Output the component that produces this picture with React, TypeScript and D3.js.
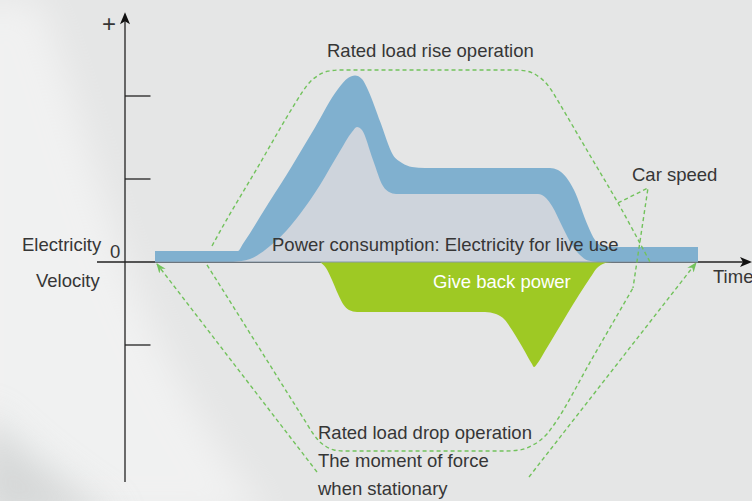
import React from "react";
import * as d3 from "d3";

const W = 752;
const H = 501;

// x: time units, y: value units (schematic)
const consumptionOuter: [number, number][] = [
  [3.0, 1.33], [11.3, 1.33], [11.8, 2.2], [14.3, 6.99], [16.7, 11.57], [19.0, 16.2], [21.3, 20.84], [22.3, 22.17],
  [23.0, 22.47], [23.7, 22.05], [24.3, 20.72], [25.55, 16.8], [26.8, 12.89], [27.7, 11.93], [28.7, 11.45],
  [30.0, 11.33], [42.5, 11.33], [43.3, 11.08], [44.1, 10.24], [44.9, 8.67], [46.3, 4.34],
  [47.0, 2.65], [47.7, 1.93], [48.7, 1.81], [57.3, 1.81],
];

const consumptionInner: [number, number][] = [
  [10.8, 0], [12.5, 0.36], [14.5, 1.93], [16.2, 3.86], [17.5, 5.78], [19.5, 9.28],
  [21.5, 13.37], [22.7, 15.66], [23.2, 16.27], [23.7, 15.9], [24.8, 12.29], [25.8, 9.16],
  [26.4, 8.43], [27.1, 8.19], [41.3, 8.19], [42.1, 7.71], [42.7, 6.75], [43.8, 4.1],
  [44.7, 2.05], [45.5, 0.84], [46.3, 0.18], [47.3, 0],
];

const giveBack: [number, number][] = [
  [19.5, 0], [20.1, -0.72], [20.7, -2.17], [21.3, -3.86], [21.8, -5.06], [22.4, -5.78],
  [23.2, -6.02], [36.0, -6.02], [37.1, -6.27], [38.0, -6.99], [38.7, -8.19], [39.9, -10.6],
  [40.7, -12.29], [40.9, -12.65], [41.2, -12.29], [42.0, -10.72], [46.5, -1.93],
  [47.2, -0.72], [47.9, -0.18], [48.7, 0],
];

const riseSpeed: [number, number][] = [
  [8.7, 1.93], [9.3, 3.25], [13.2, 11.27], [17.1, 19.28], [17.8, 20.6], [18.5, 21.69], [19.3, 22.47],
  [20.3, 22.99], [21.5, 23.13], [39.0, 23.13], [40.2, 22.99], [41.2, 22.47], [42.0, 21.69],
  [42.7, 20.6], [43.3, 19.4], [46.3, 13.25], [49.3, 7.11], [52.5, 0],
];

const dropSpeed: [number, number][] = [
  [8.2, -0.36], [8.9, -1.69], [13.5, -10.51], [18.1, -19.33], [18.8, -20.66], [19.4, -21.57], [20.1, -22.23],
  [20.9, -22.65], [22.0, -22.77], [38.0, -22.77], [39.5, -22.65], [40.6, -22.17],
  [41.5, -21.51], [42.2, -20.72], [42.8, -19.76], [46.8, -11.45], [50.8, -3.13],
];

const carSpeedLeader: [number, number][] = [[49.3, 7.11], [52.3, 8.92], [50.8, -3.13]];
const stationaryLeftArrow: [number, number][] = [[19.2, -25.3], [3.2, -0.24]];
const stationaryRightArrow: [number, number][] = [[40.4, -25.9], [57.1, -0.12]];

const yTicks = [20, 10, -10];
const xAxisExtent = [-2.8, 62.7];
const yAxisExtent = [-26.5, 30.1];

const FONT = "'Liberation Sans', Arial, Helvetica, sans-serif";
const TEXT = "#363636";
const BLUE = "#80b0cf";
const GREYFILL = "#ced4dc";
const GREEN = "#9ec924";
const DASH = "#72c25c";

export default function App() {
  const x = d3.scaleLinear().domain([0, 62]).range([125, 745]);
  const y = d3.scaleLinear().domain([0, 10]).range([262, 179]);

  const area = d3
    .area<[number, number]>()
    .x((d) => x(d[0]))
    .y0(y(0))
    .y1((d) => y(d[1]))
    .curve(d3.curveMonotoneX);
  const curve = d3
    .line<[number, number]>()
    .x((d) => x(d[0]))
    .y((d) => y(d[1]))
    .curve(d3.curveMonotoneX);
  const straight = d3
    .line<[number, number]>()
    .x((d) => x(d[0]))
    .y((d) => y(d[1]));

  const x0 = x(0);
  const yTop = y(yAxisExtent[1]);
  const yBot = y(yAxisExtent[0]);
  const xl = x(xAxisExtent[0]);
  const xr = x(xAxisExtent[1]);
  const yz = y(0);

  const bandStart = x(consumptionOuter[0][0]);
  const bandEnd = x(consumptionOuter[consumptionOuter.length - 1][0]);

  const dashProps = {
    fill: "none",
    stroke: DASH,
    strokeWidth: 1.4,
    strokeDasharray: "4 3",
  };

  return (
    <svg
      width={W}
      height={H}
      viewBox={`0 0 ${W} ${H}`}
      style={{ position: "absolute", left: 0, top: 0, display: "block" }}
      fontFamily={FONT}
    >
      <defs>
        <filter id="soft" x="-50%" y="-50%" width="200%" height="200%">
          <feGaussianBlur stdDeviation="18" />
        </filter>
        <marker
          id="garrow"
          viewBox="0 0 10 10"
          refX="9"
          refY="5"
          markerUnits="userSpaceOnUse"
          markerWidth="10"
          markerHeight="10"
          orient="auto"
        >
          <path d="M0,1 L10,5 L0,9 L3,5 Z" fill={DASH} />
        </marker>
      </defs>

      {/* background */}
      <rect x={0} y={0} width={W} height={H} fill="#e5e6e6" />
      <path
        d="M 40 0 C 100 160, 120 330, 270 520 L -40 520 L -40 0 Z"
        fill="#ffffff"
        opacity={0.45}
        filter="url(#soft)"
      />
      <path
        d="M -20 410 Q 40 470 120 520 L -20 520 Z"
        fill="#cfd1d1"
        opacity={0.8}
        filter="url(#soft)"
      />

      {/* axes */}
      <line x1={x0} y1={yBot} x2={x0} y2={yTop + 4} stroke="#222" strokeWidth={1.3} />
      <path
        d={`M ${x0} ${yTop} L ${x0 + 5} ${yTop + 12} L ${x0} ${yTop + 9} L ${x0 - 5} ${yTop + 12} Z`}
        fill="#111"
      />
      <line x1={xl} y1={yz} x2={xr - 4} y2={yz} stroke="#222" strokeWidth={1.3} />
      <path
        d={`M ${xr} ${yz} L ${xr - 12} ${yz - 5} L ${xr - 9} ${yz} L ${xr - 12} ${yz + 5} Z`}
        fill="#111"
      />
      {yTicks.map((t) => (
        <line
          key={t}
          x1={x0}
          x2={x(2.55)}
          y1={y(t)}
          y2={y(t)}
          stroke="#222"
          strokeWidth={1.3}
        />
      ))}

      {/* power areas */}
      <path d={area(consumptionOuter) || ""} fill={BLUE} />
      <path d={area(consumptionInner) || ""} fill={GREYFILL} />
      <path d={area(giveBack) || ""} fill={GREEN} />
      <line x1={bandStart} x2={bandEnd} y1={yz} y2={yz} stroke="#8598a8" strokeWidth={1} />

      {/* speed curves and callouts */}
      <path d={curve(riseSpeed) || ""} {...dashProps} />
      <path d={curve(dropSpeed) || ""} {...dashProps} />
      <path d={straight(carSpeedLeader) || ""} {...dashProps} />
      <path d={straight(stationaryLeftArrow) || ""} {...dashProps} markerEnd="url(#garrow)" />
      <path d={straight(stationaryRightArrow) || ""} {...dashProps} markerEnd="url(#garrow)" />

      {/* labels */}
      <g fontSize={18.5} fill={TEXT}>
        <text x={109} y={32} fontSize={24} textAnchor="middle">+</text>
        <text x={327} y={57}>Rated load rise operation</text>
        <text x={632} y={181}>Car speed</text>
        <text x={22} y={251}>Electricity</text>
        <text x={110} y={258}>0</text>
        <text x={272} y={251}>Power consumption: Electricity for live use</text>
        <text x={36} y={287}>Velocity</text>
        <text x={713} y={283}>Time</text>
        <text x={433} y={288} fill="#ffffff">Give back power</text>
        <text x={318} y={439}>Rated load drop operation</text>
        <text x={318} y={467}>The moment of force</text>
        <text x={318} y={495}>when stationary</text>
      </g>
    </svg>
  );
}
